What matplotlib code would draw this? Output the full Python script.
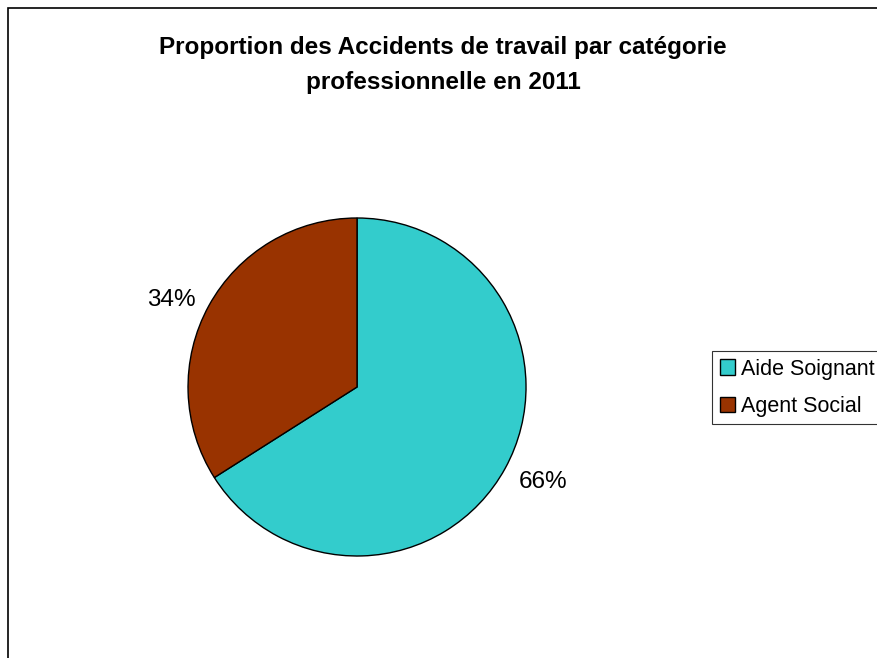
import numpy as np
import matplotlib.pyplot as plt
from matplotlib.patches import Rectangle

plt.rcParams['font.family'] = ['Liberation Sans', 'DejaVu Sans']

# data
categories = ['Aide Soignant', 'Agent Social']
shares = [66, 34]
colors = ['#33CCCC', '#993300']
title = "Proportion des Accidents de travail par catégorie\nprofessionnelle en 2011"

fig = plt.figure(figsize=(8.77, 6.58), dpi=100)

# chart frame (left and top edges visible, the rest is cut off)
fig.patches.append(Rectangle((8 / 877, -0.1), 1.2, 1 - 8 / 658 + 0.1,
                             transform=fig.transFigure, fill=False,
                             edgecolor='black', linewidth=1.2))

ax = fig.add_axes([0.2144, 0.155, 0.3854, 0.5137])
wedges, texts, autotexts = ax.pie(
    shares, colors=colors, startangle=90, counterclock=False,
    autopct='%1.0f%%', pctdistance=1.23,
    wedgeprops=dict(edgecolor='black', linewidth=1.0),
    textprops=dict(fontsize=17.5, color='black'))
# excel-like label placement: a bit wider, a bit flatter
for w, t in zip(wedges, autotexts):
    ang = np.deg2rad((w.theta1 + w.theta2) / 2)
    t.set_position((1.255 * np.cos(ang), 1.12 * np.sin(ang) - 0.025))
ax.set_xlim(-1, 1)
ax.set_ylim(-1, 1)
ax.set_aspect('equal')

fig.text(0.505, 1 - 65 / 658, title, ha='center', va='center',
         fontsize=17.5, fontweight='bold', linespacing=1.7)

leg = fig.legend(wedges, categories, loc='upper left',
                 bbox_to_anchor=(712 / 877, 1 - 351 / 658),
                 fontsize=15.5, frameon=True, fancybox=False,
                 edgecolor='black', handlelength=0.7, handleheight=0.7,
                 handletextpad=0.3, borderpad=0.35, labelspacing=0.75,
                 borderaxespad=0)
leg.get_frame().set_linewidth(0.8)

fig.savefig('out.png', dpi=100)
